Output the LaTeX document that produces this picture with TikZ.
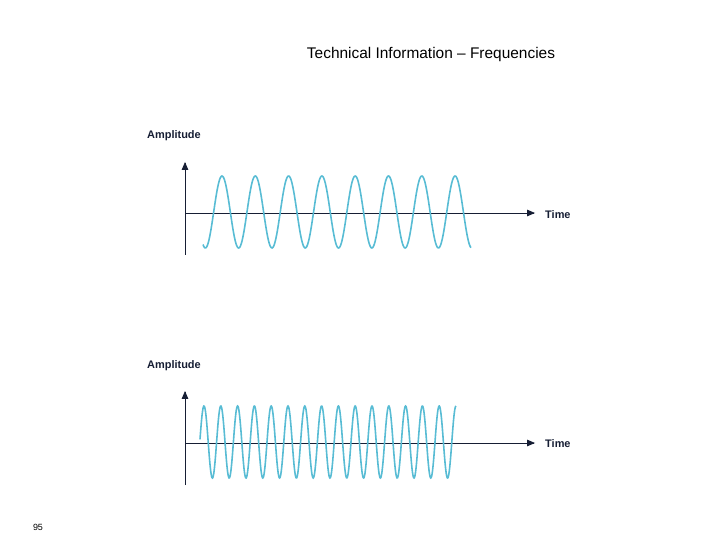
\documentclass[tikz,border=0pt]{standalone}
\usepackage{fontspec}
\setmainfont{Liberation Sans}
\usetikzlibrary{arrows}
\definecolor{wave}{RGB}{88,188,212}
\definecolor{axisc}{RGB}{22,30,52}
\tikzset{
	axis/.style={draw=axisc, line width=0.8pt},
	signal/.style={draw=wave, line width=1.6pt},
	lbl/.style={font=\bfseries\fontsize{11}{13}\selectfont, text=axisc, inner sep=0pt}
}
\begin{document}
\begin{tikzpicture}[x=1bp, y=-1bp]
	\useasboundingbox (0,0) rectangle (720,540);
	\node (title) at (431,55) {\fontsize{15.5}{18}\selectfont Technical Information -- Frequencies};
	\node (page) at (38,527) {\fontsize{9}{11}\selectfont 95};

	% upper plot
	\coordinate (A1) at (185,255);
	\coordinate (A1top) at (185,162);
	\coordinate (T1o) at (185,213);
	\coordinate (T1) at (535,213);
	\node[lbl, anchor=west] (amp1) at (147,136) {Amplitude};
	\node[lbl, anchor=west] (time1) at (545,215) {Time};
	\draw[axis, -triangle 45] (A1) -- (A1top);
	\draw[axis, -triangle 45] (T1o) -- (T1);
	\draw[signal] plot[domain=203:471, samples=400] (\x, {212-36*cos(10.811*(\x-222))});

	% lower plot
	\coordinate (A2) at (185,485);
	\coordinate (A2top) at (185,391);
	\coordinate (T2o) at (185,443);
	\coordinate (T2) at (535,443);
	\node[lbl, anchor=west] (amp2) at (147,366) {Amplitude};
	\node[lbl, anchor=west] (time2) at (545,444) {Time};
	\draw[axis, -triangle 45] (A2) -- (A2top);
	\draw[axis, -triangle 45] (T2o) -- (T2);
	\draw[signal] plot[domain=200:456, samples=600] (\x, {442-36*cos(21.429*(\x-204))});
\end{tikzpicture}
\end{document}
